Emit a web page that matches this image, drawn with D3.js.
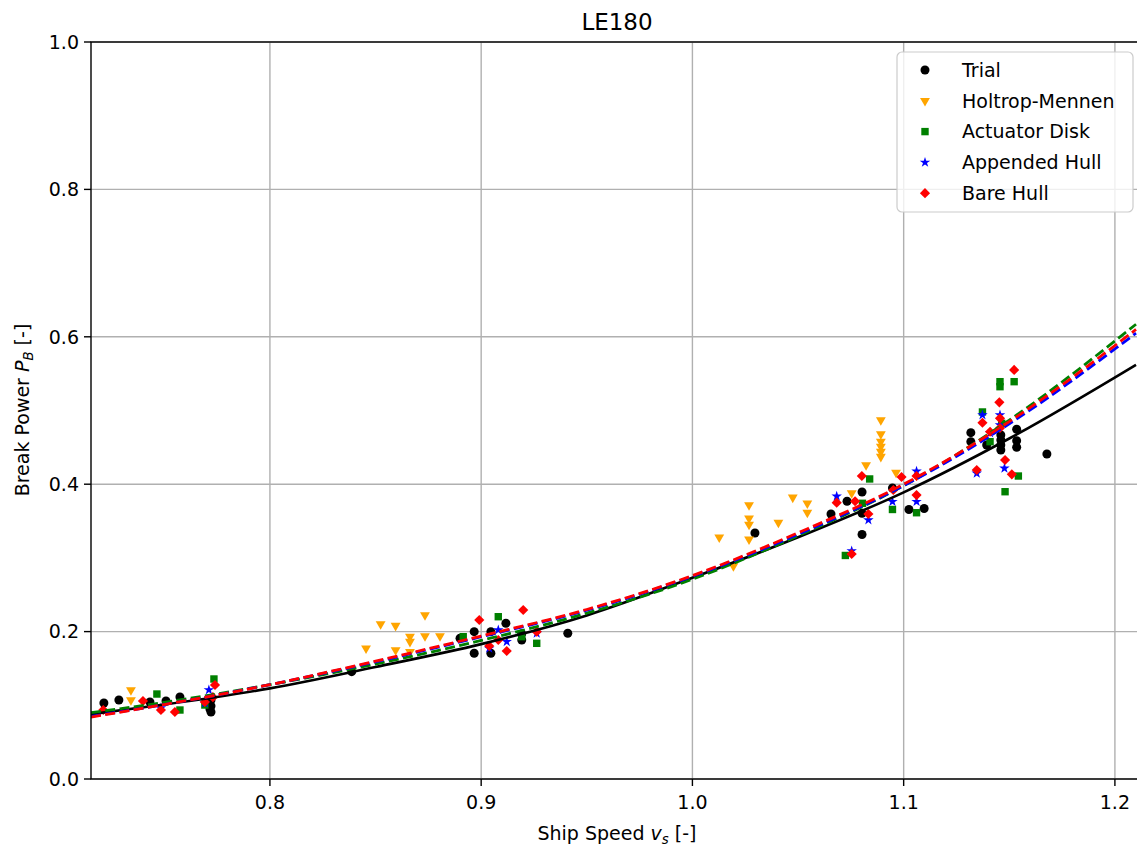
<!DOCTYPE html>
<html>
<head>
<meta charset="utf-8">
<script src="https://cdn.jsdelivr.net/npm/d3@7"></script>
<style>
  html, body { margin: 0; padding: 0; background: #fff; }
  svg { display: block; font-family: "DejaVu Sans", sans-serif; }
</style>
</head>
<body>
<svg id="chart" width="1137" height="847"></svg>
<script>
// ---- measured data (ship speed vs break power, normalised) ----
const trialSpeed = [0.7214, 0.7285, 0.7432, 0.7508, 0.7574, 0.7721, 0.7721, 0.7721, 0.7716,
  0.8387, 0.8900, 0.8967, 0.8967, 0.9046, 0.9046, 0.9117, 0.9192, 0.9192, 0.9410,
  1.0296, 1.0656, 1.0732, 1.0803, 1.0803, 1.0803, 1.0947, 1.1025, 1.1097,
  1.1318, 1.1318, 1.1393, 1.1460, 1.1460, 1.1460, 1.1460, 1.1535, 1.1535, 1.1535, 1.1678];
const trialPower = [0.1031, 0.1072, 0.1045, 0.1058, 0.1113, 0.1072, 0.0991, 0.0909, 0.0950,
  0.1456, 0.1909, 0.1999, 0.1706, 0.1999, 0.1706, 0.2113, 0.1886, 0.1970, 0.1977,
  0.3338, 0.3596, 0.3768, 0.3894, 0.3605, 0.3318, 0.3948, 0.3657, 0.3670,
  0.4699, 0.4577, 0.4532, 0.4668, 0.4600, 0.4532, 0.4464, 0.4745, 0.4590, 0.4501, 0.4410];

const hmSpeed = [0.7342, 0.7342, 0.8455, 0.8524, 0.8595, 0.8734, 0.8663, 0.8663, 0.8663, 0.8595, 0.8734, 0.8805,
  1.0127, 1.0194, 1.0268, 1.0268, 1.0268, 1.0268, 1.0407, 1.0475, 1.0544, 1.0544, 1.0754, 1.0822,
  1.0892, 1.0892, 1.0892, 1.0892, 1.0892, 1.0892, 1.0964];
const hmPower = [0.1208, 0.1072, 0.1773, 0.2103, 0.2080, 0.2225, 0.1931, 0.1863, 0.1727, 0.1750, 0.1940, 0.1940,
  0.3280, 0.2890, 0.3718, 0.3537, 0.3453, 0.3252, 0.3478, 0.3820, 0.3741, 0.3616, 0.3880, 0.4260,
  0.4871, 0.4681, 0.4577, 0.4509, 0.4441, 0.4373, 0.4159];

const adSpeed = [0.7465, 0.7574, 0.7692, 0.7735,
  0.8915, 0.9081, 0.9192, 0.9263,
  1.0724, 1.0805, 1.0839, 1.0947, 1.1061,
  1.1373, 1.1409, 1.1456, 1.1456, 1.1464, 1.1480, 1.1523, 1.1543];
const adPower = [0.1153, 0.0936, 0.1004, 0.1357,
  0.1931, 0.2202, 0.1931, 0.1841,
  0.3033, 0.3741, 0.4071, 0.3657, 0.3613,
  0.4980, 0.4577, 0.5391, 0.5323, 0.4826, 0.3898, 0.5391, 0.4111];

const ahSpeed = [0.7484, 0.7692, 0.7711,
  0.9038, 0.9081, 0.9121, 0.9263,
  1.0683, 1.0754, 1.0833, 1.0947, 1.1061, 1.1061,
  1.1346, 1.1373, 1.1409, 1.1456, 1.1456, 1.1477];
const ahPower = [0.0963, 0.1030, 0.1208,
  0.1773, 0.2022, 0.1863, 0.1977,
  0.3836, 0.3094, 0.3514, 0.3763, 0.4175, 0.3763,
  0.4148, 0.4939, 0.4695, 0.4939, 0.4803, 0.4216];

const bhSpeed = [0.7211, 0.7399, 0.7484, 0.7550, 0.7692, 0.7730, 0.7740,
  0.8991, 0.9038, 0.9081, 0.9121, 0.9199, 0.9263,
  1.0683, 1.0754, 1.0770, 1.0802, 1.0833, 1.0951, 1.0990, 1.1061, 1.1061,
  1.1346, 1.1373, 1.1409, 1.1453, 1.1456, 1.1456, 1.1480, 1.1512, 1.1523];
const bhPower = [0.0936, 0.1058, 0.0936, 0.0909, 0.1045, 0.1110, 0.1275,
  0.2157, 0.1805, 0.1886, 0.1737, 0.2293, 0.1999,
  0.3749, 0.3053, 0.3769, 0.4111, 0.3596, 0.3921, 0.4098, 0.4111, 0.3853,
  0.4193, 0.4834, 0.4712, 0.5111, 0.4894, 0.4763, 0.4328, 0.4134, 0.5550];

// ---- fitted power curves, sampled along the speed range ----
const fitSpeed      = [0.7153, 0.75, 0.80, 0.85, 0.90, 0.95, 1.00, 1.05, 1.10, 1.15, 1.21];
const fitTrial      = [0.088, 0.101, 0.123, 0.152, 0.183, 0.222, 0.273, 0.328, 0.389, 0.462, 0.562];
const fitActuator   = [0.090, 0.104, 0.128, 0.156, 0.188, 0.225, 0.271, 0.330, 0.398, 0.487, 0.617];
const fitAppended   = [0.085, 0.101, 0.128, 0.159, 0.193, 0.229, 0.275, 0.332, 0.398, 0.482, 0.605];
const fitBare       = [0.084, 0.101, 0.128, 0.160, 0.194, 0.230, 0.276, 0.334, 0.400, 0.485, 0.610];

const xTicks = [0.8, 0.9, 1.0, 1.1, 1.2];
const yTicks = [0.0, 0.2, 0.4, 0.6, 0.8, 1.0];
const xDomain = [0.7153, 1.2133];
const yDomain = [0, 1];

// ---- layout ----
const svg = d3.select("#chart");
const plot = { left: 91, top: 42, right: 1143, bottom: 779 };
const x = d3.scaleLinear().domain(xDomain).range([plot.left, plot.right]);
const y = d3.scaleLinear().domain(yDomain).range([plot.bottom, plot.top]);
const FONT = 19;

svg.append("defs").append("clipPath").attr("id", "plotClip")
  .append("rect").attr("x", plot.left).attr("y", plot.top)
  .attr("width", plot.right - plot.left).attr("height", plot.bottom - plot.top);

// grid
const grid = svg.append("g").attr("stroke", "#b0b0b0").attr("stroke-width", 1.4);
grid.selectAll("line.gx").data(xTicks).join("line")
  .attr("x1", d => x(d)).attr("x2", d => x(d))
  .attr("y1", plot.top).attr("y2", plot.bottom);
grid.selectAll("line.gy").data(yTicks).join("line")
  .attr("x1", plot.left).attr("x2", plot.right)
  .attr("y1", d => y(d)).attr("y2", d => y(d));

// markers
const star = d3.symbol().type(d3.symbolStar).size(34)();
const tri = d3.symbol().type(d3.symbolTriangle).size(42)();
const series = [
  { name: "Trial", sx: trialSpeed, sy: trialPower, color: "#000000",
    draw: g => g.append("circle").attr("r", 4.5) },
  { name: "Holtrop-Mennen", sx: hmSpeed, sy: hmPower, color: "#ffa500",
    draw: g => g.append("path").attr("d", tri).attr("transform", "rotate(180)") },
  { name: "Actuator Disk", sx: adSpeed, sy: adPower, color: "#008000",
    draw: g => g.append("rect").attr("x", -3.7).attr("y", -3.7).attr("width", 7.4).attr("height", 7.4) },
  { name: "Appended Hull", sx: ahSpeed, sy: ahPower, color: "#0000ff",
    draw: g => g.append("path").attr("d", star) },
  { name: "Bare Hull", sx: bhSpeed, sy: bhPower, color: "#ff0000",
    draw: g => g.append("rect").attr("x", -3.6).attr("y", -3.6).attr("width", 7.2).attr("height", 7.2)
      .attr("transform", "rotate(45)") }
];

const pts = svg.append("g").attr("clip-path", "url(#plotClip)");
series.forEach(s => {
  const g = pts.append("g").attr("fill", s.color);
  s.sx.forEach((v, i) => {
    const m = g.append("g").attr("transform", `translate(${x(v)},${y(s.sy[i])})`);
    s.draw(m);
  });
});

// fitted lines (drawn above the scatter)
const lines = svg.append("g").attr("clip-path", "url(#plotClip)").attr("fill", "none");
const lineGen = vals => d3.line().curve(d3.curveMonotoneX)
  .x((d, i) => x(fitSpeed[i])).y(d => y(d))(vals);
lines.append("path").attr("d", lineGen(fitTrial)).attr("stroke", "#000").attr("stroke-width", 2.6);
[[fitActuator, "#008000"], [fitAppended, "#0000ff"], [fitBare, "#ff0000"]].forEach(([vals, c]) => {
  lines.append("path").attr("d", lineGen(vals)).attr("stroke", c)
    .attr("stroke-width", 2.8).attr("stroke-dasharray", "10,4.4");
});

// spines
svg.append("rect").attr("x", plot.left).attr("y", plot.top)
  .attr("width", plot.right - plot.left).attr("height", plot.bottom - plot.top)
  .attr("fill", "none").attr("stroke", "#000").attr("stroke-width", 1.4);

// x axis ticks and labels
const xa = svg.append("g");
xTicks.forEach(t => {
  xa.append("line").attr("x1", x(t)).attr("x2", x(t)).attr("y1", plot.bottom).attr("y2", plot.bottom + 7)
    .attr("stroke", "#000").attr("stroke-width", 1.4);
  xa.append("text").attr("x", x(t)).attr("y", 809).attr("text-anchor", "middle")
    .attr("font-size", FONT).text(t.toFixed(1));
});
const ya = svg.append("g");
yTicks.forEach(t => {
  ya.append("line").attr("x1", plot.left - 7).attr("x2", plot.left).attr("y1", y(t)).attr("y2", y(t))
    .attr("stroke", "#000").attr("stroke-width", 1.4);
  ya.append("text").attr("x", 79).attr("y", y(t)).attr("dy", "0.36em").attr("text-anchor", "end")
    .attr("font-size", FONT).text(t.toFixed(1));
});

// axis titles
const xl = svg.append("text").attr("x", 617).attr("y", 840).attr("text-anchor", "middle").attr("font-size", FONT);
xl.append("tspan").text("Ship Speed ");
xl.append("tspan").attr("font-style", "italic").text("v");
xl.append("tspan").attr("font-style", "italic").attr("font-size", FONT * 0.7).attr("dy", 4).text("s");
xl.append("tspan").attr("dy", -4).text(" [-]");

const yl = svg.append("text").attr("transform", "translate(29,410) rotate(-90)")
  .attr("text-anchor", "middle").attr("font-size", FONT);
yl.append("tspan").text("Break Power ");
yl.append("tspan").attr("font-style", "italic").text("P");
yl.append("tspan").attr("font-style", "italic").attr("font-size", FONT * 0.7).attr("dy", 4).text("B");
yl.append("tspan").attr("dy", -4).text(" [-]");

// title
svg.append("text").attr("x", 617).attr("y", 30).attr("text-anchor", "middle")
  .attr("font-size", 23).text("LE180");

// legend
const lg = svg.append("g").attr("transform", "translate(897,52)");
lg.append("rect").attr("width", 236).attr("height", 160).attr("rx", 5)
  .attr("fill", "#fff").attr("fill-opacity", 0.8).attr("stroke", "#cccccc").attr("stroke-width", 1.2);
series.forEach((s, i) => {
  const cy = 18 + i * 30.8;
  const m = lg.append("g").attr("fill", s.color).attr("transform", `translate(28,${cy})`);
  s.draw(m);
  lg.append("text").attr("x", 65).attr("y", cy).attr("dy", "0.36em")
    .attr("font-size", FONT).text(s.name);
});
</script>
</body>
</html>
